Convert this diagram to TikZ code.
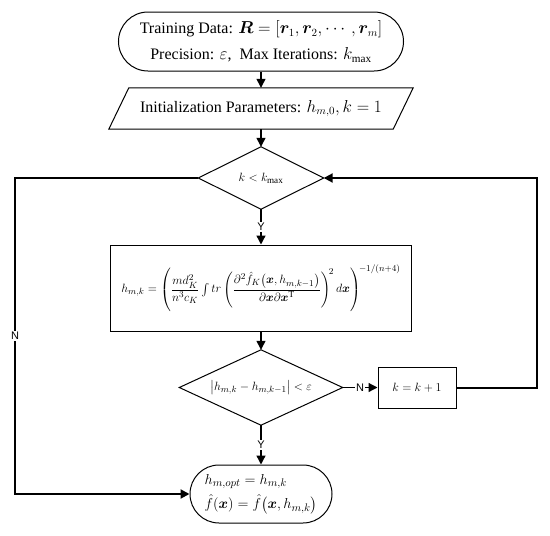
\documentclass[tikz,border=0pt]{standalone}
\usepackage{amsmath}
\usepackage{bm}
\usepackage{fontspec}
\setmainfont{Liberation Serif}
\newfontfamily\labfont{Liberation Sans}
\usetikzlibrary{arrows.meta,shapes.misc}
\begin{document}
\begin{tikzpicture}[x=1pt,y=-1pt, font=\fontsize{16}{19}\selectfont,
  outline/.style={draw, line width=1pt},
  term/.style={outline, rounded rectangle, inner sep=0pt},
  proc/.style={outline, rectangle, inner sep=0pt},
  plain/.style={rectangle, inner sep=0pt},
  mathmid/.style={font=\fontsize{13}{15}\selectfont},
  flow/.style={line width=1.3pt, -{Triangle[length=9pt,width=9pt]}},
  loopline/.style={line width=2pt, -{Triangle[length=9pt,width=9pt]}},
  lab/.style={fill=white, inner sep=1pt, font=\labfont\fontsize{11}{11}\selectfont}]
\useasboundingbox (0,0) rectangle (550,536);

\node[term, minimum width=285pt, minimum height=59pt, align=center] (start) at (261,41.5)
  {Training Data: $\bm{R}=\left[\bm{r}_1,\bm{r}_2,\cdots,\bm{r}_m\right]$\\[7pt]
   Precision: $\varepsilon$,\ \ Max Iterations: $k_{\max}$};

\node[plain, minimum width=284pt, minimum height=41pt] (init) at (261,108.5)
  {Initialization Parameters: $h_{m,0}, k=1$};
\draw[outline] ([xshift=-10pt]init.south west) -- ([xshift=10pt]init.north west)
  -- ([xshift=10pt]init.north east) -- ([xshift=-10pt]init.south east) -- cycle;

\node[plain, minimum width=125pt, minimum height=62pt, mathmid] (d1) at (261,178) {$k<k_{\max}$};
\draw[outline] (d1.north) -- (d1.east) -- (d1.south) -- (d1.west) -- cycle;

\node[proc, minimum width=301pt, minimum height=86pt, mathmid] (upd) at (261,288)
  {$h_{m,k}=\left(\dfrac{m d_K^2}{n^3 c_K}\int tr\left(\dfrac{\partial^2 \hat f_K\!\left(\bm{x},h_{m,k-1}\right)}{\partial\bm{x}\partial\bm{x}^{\mathrm T}}\right)^{\!2} d\bm{x}\right)^{\!-1/(n+4)}$};

\node[plain, minimum width=163pt, minimum height=75pt, font=\fontsize{12.5}{14}\selectfont] (d2) at (261,387.5)
  {$\bigl|h_{m,k}-h_{m,k-1}\bigr|<\varepsilon$};
\draw[outline] (d2.north) -- (d2.east) -- (d2.south) -- (d2.west) -- cycle;

\node[proc, minimum width=78pt, minimum height=41pt, mathmid] (kb) at (417,387.5) {$k=k+1$};

\node[term, minimum width=142pt, minimum height=58pt, align=left, font=\fontsize{15}{17}\selectfont] (end) at (261,494)
  {$h_{m,opt}=h_{m,k}$\\[5pt] $\hat f\!\left(\bm{x}\right)=\hat f\!\left(\bm{x},h_{m,k}\right)$};

\coordinate (rc) at (537,178);
\coordinate (lc) at (15,178);

\draw[flow] (start.south) -- (init.north);
\draw[flow] (init.south) -- (d1.north);
\draw[flow] (d1.south) -- node[lab]{Y} (upd.north);
\draw[flow] (upd.south) -- (d2.north);
\draw[flow] (d2.east) -- node[lab]{N} (kb.west);
\draw[flow] (d2.south) -- node[lab]{Y} (end.north);
\draw[loopline] (kb.east) -| (rc) -- (d1.east);
\draw[loopline] (d1.west) -- (lc) -- node[lab]{N} (lc |- end.west) -- (end.west);
\end{tikzpicture}
\end{document}
